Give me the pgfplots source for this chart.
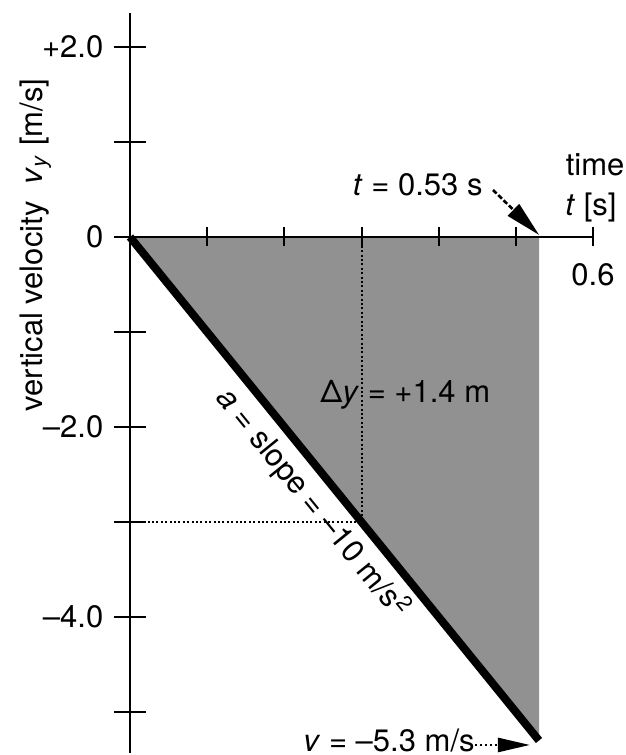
\documentclass[border=0pt]{standalone}
\usepackage{pgfplots}
\pgfplotsset{compat=1.18}
\usepackage{fontspec}
\setmainfont{TeX Gyre Heros}
\usetikzlibrary{arrows.meta}
\definecolor{fillgray}{RGB}{145,145,145}
\begin{document}
\fontsize{15.5}{18}\selectfont
\begin{tikzpicture}[font=\fontsize{15.5}{18}\selectfont]
\begin{axis}[
  x=385.85pt, y=47.5pt,
  xmin=0, xmax=0.6, ymin=-5.43, ymax=2.36,
  axis lines=middle,
  axis line style={-, line width=1.1pt},
  enlargelimits=false,
  clip=false,
  axis on top=true,
  no markers,
  xtick={0.1,0.2,0.3,0.4,0.6},
  xticklabels={,,,,0.6},
  extra x ticks={0.5},
  extra x tick labels={},
  extra x tick style={major tick length=16.5pt},
  ytick={-5,-4,-3,-2,-1,0,1,2},
  yticklabels={,–4.0,,–2.0,,0,,+2.0},
  hide obscured y ticks=false,
  hide obscured x ticks=false,
  tick align=center,
  major tick length=16pt,
  tick style={line width=1pt, black},
  every x tick/.append style={/pgfplots/major tick length=9.5pt},
  tick label style={font=\fontsize{15.5}{18}\selectfont},
]
\addplot[draw=none, fill=fillgray] coordinates {(0,0) (0.53,-5.3) (0.53,0) (0,0)};
\addplot[black, line width=1pt, dash pattern=on 1pt off 1.2pt] coordinates {(0.3,0) (0.3,-3)};
\addplot[black, line width=1pt, dash pattern=on 1pt off 1.2pt] coordinates {(0,-3) (0.3,-3)};
\addplot[black, line width=4pt] coordinates {(0,0) (0.53,-5.3)};

\node[rotate=90, anchor=base] at (axis cs:-0.114,-0.084) {vertical velocity\ \ \textit{v}\textsubscript{\textit{y}} [m/s]};
\node[anchor=base] at (axis cs:0.6026,0.642) {time};
\node[anchor=base] at (axis cs:0.5974,0.221) {\textit{t} [s]};
\node[anchor=base east, inner sep=0pt] at (axis cs:0.4574,0.442) {\textit{t} = 0.53 s};
\node[anchor=base west, inner sep=0pt] at (axis cs:0.2462,-1.747) {Δ\textit{y} = +1.4 m};
\node[anchor=base west, inner sep=0pt] at (axis cs:0.2242,-5.411) {\textit{v} = –5.3 m/s};
\node[rotate=-50.9, anchor=center] at (axis cs:0.2369,-2.804) {\textit{a} = slope = –10 m/s\textsuperscript{2}};

\draw[line width=1.3pt, dash pattern=on 2.5pt off 1.2pt, -{Triangle[length=18pt,width=8pt]}] (axis cs:0.4704,0.4947) -- (axis cs:0.5302,0.021);
\draw[line width=1.3pt, dash pattern=on 1pt off 1.5pt, -{Triangle[length=16pt,width=7pt]}] (axis cs:0.4471,-5.347) -- (axis cs:0.5183,-5.347);

\coordinate (BL) at (axis cs:-0.16846,-5.4526);
\coordinate (TR) at (axis cs:0.64274,2.4947);
\end{axis}
\pgfresetboundingbox
\useasboundingbox (BL) rectangle (TR);
\end{tikzpicture}
\end{document}
